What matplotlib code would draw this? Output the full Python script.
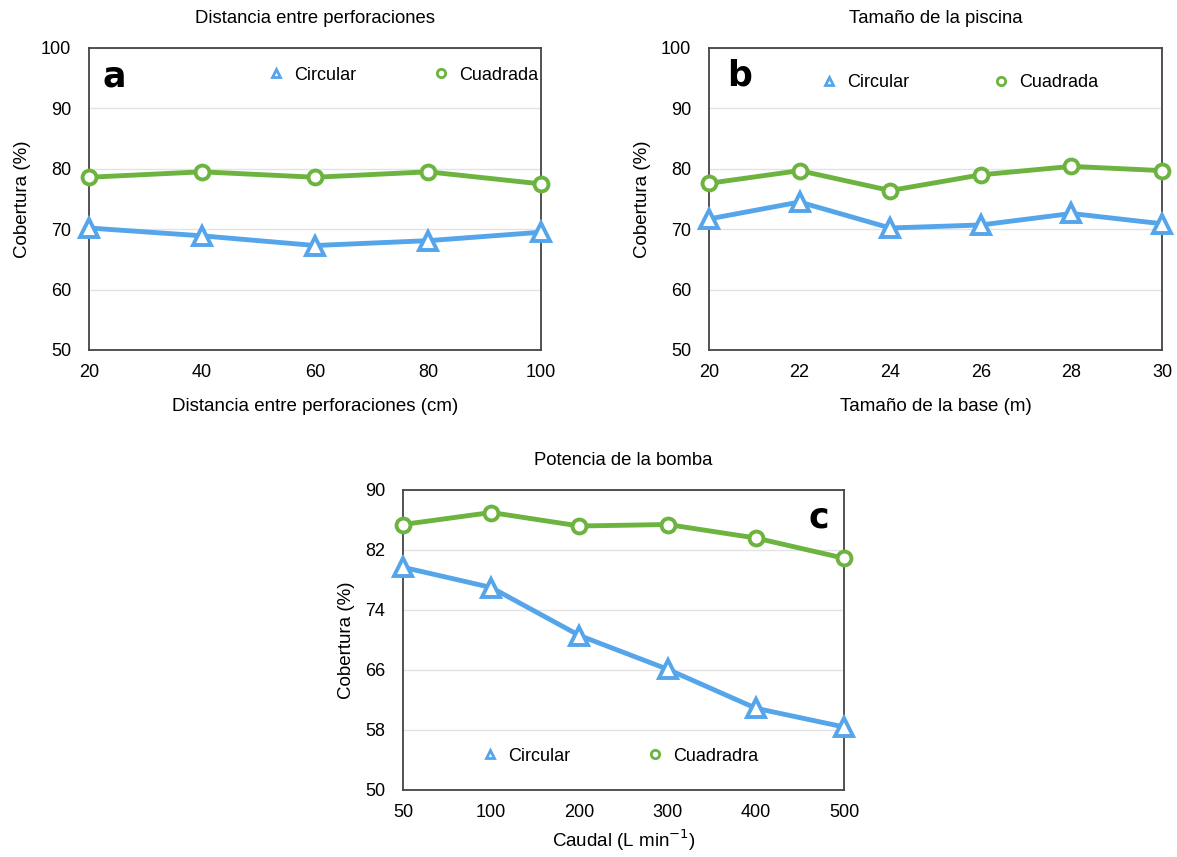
import matplotlib.pyplot as plt
from matplotlib.lines import Line2D

plt.rcParams['font.family'] = ['Liberation Sans', 'DejaVu Sans']

# panel a
dist = ["20", "40", "60", "80", "100"]
a_circ = [70.2, 68.9, 67.3, 68.1, 69.5]
a_cuad = [78.6, 79.5, 78.6, 79.5, 77.5]

# panel b
base = ["20", "22", "24", "26", "28", "30"]
b_circ = [71.7, 74.5, 70.2, 70.7, 72.6, 70.9]
b_cuad = [77.6, 79.7, 76.4, 79.0, 80.4, 79.7]

# panel c
caudal = ["50", "100", "200", "300", "400", "500"]
c_circ = [79.7, 77.0, 70.6, 66.1, 60.9, 58.4]
c_cuad = [85.4, 87.0, 85.2, 85.4, 83.6, 80.9]

blue = "#55a5ea"
green = "#6cb33f"

fig = plt.figure(figsize=(11.77, 8.57), dpi=100)
W, H = 1177, 857


def add_ax(l, t, r, b):
    return fig.add_axes([l / W, 1 - b / H, (r - l) / W, (b - t) / H])


def style(ax, cats, circ, cuad, yticks, title, xlabel, letter, letter_xy,
          leg_names, leg_anchor, colsp, xlpad=12):
    x = list(range(len(cats)))
    ax.plot(x, circ, color=blue, lw=3.5, marker="^", ms=13, mfc="white",
            mec=blue, mew=2.8, zorder=3, clip_on=False)
    ax.plot(x, cuad, color=green, lw=3.5, marker="o", ms=10, mfc="white",
            mec=green, mew=2.8, zorder=3, clip_on=False)
    ax.set_xlim(0, len(cats) - 1)
    ax.set_ylim(yticks[0], yticks[-1])
    ax.set_xticks(x)
    ax.set_xticklabels(cats)
    ax.set_yticks(yticks)
    ax.tick_params(length=0, labelsize=13)
    ax.tick_params(axis="y", pad=13)
    ax.tick_params(axis="x", pad=10)
    ax.yaxis.grid(True, color="#e3e3e3", lw=1)
    ax.set_axisbelow(True)
    for s in ax.spines.values():
        s.set_color("#444444")
        s.set_linewidth(1.3)
    ax.set_title(title, fontsize=13.3, pad=18)
    ax.set_xlabel(xlabel, fontsize=13.5, labelpad=xlpad)
    ax.set_ylabel("Cobertura (%)", fontsize=13.5, labelpad=7)
    ax.text(letter_xy[0], letter_xy[1], letter, transform=ax.transAxes,
            fontsize=25, fontweight="bold", family=["DejaVu Sans"],
            va="center", ha="left")
    handles = [
        Line2D([], [], ls="none", marker="^", ms=6, mfc="white", mec=blue, mew=2),
        Line2D([], [], ls="none", marker="o", ms=6, mfc="white", mec=green, mew=2),
    ]
    ax.legend(handles, leg_names, loc="center", bbox_to_anchor=leg_anchor,
              ncol=2, frameon=False, fontsize=13, handlelength=0.8,
              handletextpad=0.6, columnspacing=colsp)


axa = add_ax(89, 48, 541, 350)
style(axa, dist, a_circ, a_cuad, [50, 60, 70, 80, 90, 100],
      "Distancia entre perforaciones", "Distancia entre perforaciones (cm)",
      "a", (0.03, 0.905), ["Circular", "Cuadrada"], (0.695, 0.91), 4.3)

axb = add_ax(709, 48, 1162, 350)
style(axb, base, b_circ, b_cuad, [50, 60, 70, 80, 90, 100],
      "Tamaño de la piscina", "Tamaño de la base (m)",
      "b", (0.04, 0.91), ["Circular", "Cuadrada"], (0.554, 0.885), 4.7)

axc = add_ax(403, 490, 844, 790)
style(axc, caudal, c_circ, c_cuad, [50, 58, 66, 74, 82, 90],
      "Potencia de la bomba", "Caudal (L min$^{-1}$)",
      "c", (0.92, 0.91), ["Circular", "Cuadradra"], (0.494, 0.113), 4.3,
      xlpad=5)

fig.savefig("out.png", dpi=100)
